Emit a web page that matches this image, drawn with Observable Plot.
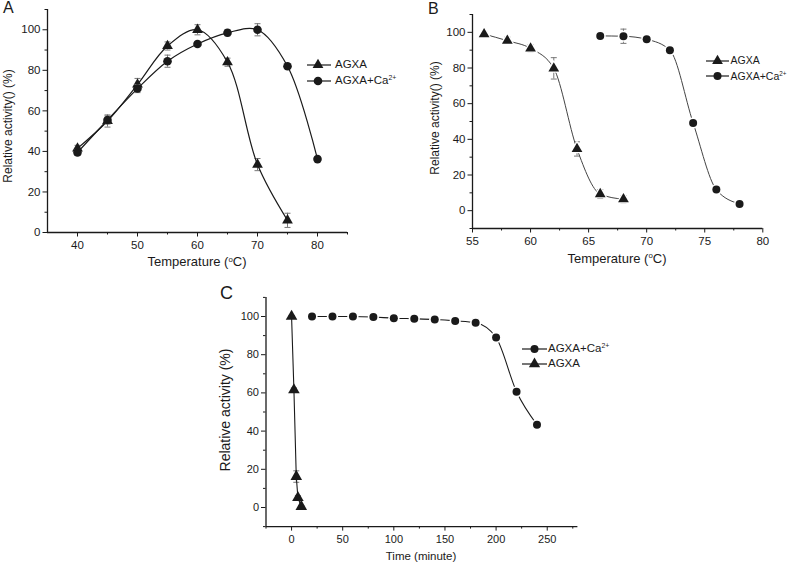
<!DOCTYPE html>
<html>
<head>
<meta charset="utf-8">
<script src="https://cdn.jsdelivr.net/npm/d3@7"></script>
<script src="https://cdn.jsdelivr.net/npm/@observablehq/plot@0.6"></script>
<style>
  html, body { margin: 0; padding: 0; background: #fff; }
  #root { position: relative; width: 789px; height: 569px; background: #fff; overflow: hidden;
          font-family: "Liberation Sans", Arial, sans-serif; color: #1a1a1a; }
  .abs { position: absolute; white-space: nowrap; line-height: 1; }
  .panel { position: absolute; }
  sup { font-size: 0.6em; vertical-align: 0; position: relative; top: -0.55em; }
</style>
</head>
<body>
<div id="root"></div>
<script>
// ---------------- Data ----------------
// Panel A: temperature optimum
const A_temp_agxa = [40, 45, 50, 55, 60, 65, 70, 75];
const A_agxa      = [41.5, 55, 73, 92, 100, 84, 33.5, 6];
const A_agxa_err  = [1.5, 3, 3, 2, 2.5, 2, 3, 3.5];
const A_temp_ca   = [40, 45, 50, 55, 60, 65, 70, 75, 80];
const A_ca        = [39.5, 55.5, 71, 84.5, 93, 98.5, 100, 82, 36.2];
const A_ca_err    = [1.5, 2, 2, 3, 1, 1.5, 3, 1, 1];

// Panel B: thermostability (temperature)
const B_temp_agxa = [56, 58, 60, 62, 64, 66, 68];
const B_agxa      = [99, 95.3, 91, 79.8, 34.6, 9.3, 6.4];
const B_agxa_err  = [1.5, 2, 2, 6, 4, 2.5, 2];
const B_temp_ca   = [66, 68, 70, 72, 74, 76, 78];
const B_ca        = [98, 97.8, 96.1, 90, 49.2, 11.8, 3.8];
const B_ca_err    = [1, 4, 1, 1, 1.5, 1, 1];

// Panel C: thermostability (time)
const C_time_ca   = [20, 40, 60, 80, 100, 120, 140, 160, 180, 200, 220, 240];
const C_ca        = [100, 100, 100, 99.7, 99.1, 98.8, 98.4, 97.7, 96.7, 89, 60.6, 43.3];
const C_ca_err    = [0.5, 0.5, 0.5, 0.5, 0.5, 0.5, 0.5, 0.8, 2, 1, 1, 1];
const C_time_agxa = [0, 2.3, 4.6, 6.2, 9.5];
const C_agxa      = [100, 61.6, 16.2, 5.2, 0.5];
const C_agxa_err  = [0.5, 1, 3, 1, 0.5];

// Ticks
const A_xTicks = [40, 50, 60, 70, 80];
const A_xMinor = [45, 55, 65, 75, 85];
const A_yTicks = [0, 20, 40, 60, 80, 100];
const A_yMinor = [10, 30, 50, 70, 90, 110];
const B_xTicks = [55, 60, 65, 70, 75, 80];
const B_xMinor = [57.5, 62.5, 67.5, 72.5, 77.5];
const B_yTicks = [0, 20, 40, 60, 80, 100];
const B_yMinor = [-10, 10, 30, 50, 70, 90, 110];
const C_xTicks = [0, 50, 100, 150, 200, 250];
const C_xMinor = [-25, 25, 75, 125, 175, 225, 275];
const C_yTicks = [0, 20, 40, 60, 80, 100];
const C_yMinor = [-10, 10, 30, 50, 70, 90, 110];

// Labels
const seriesNames = { agxa: "AGXA", ca: "AGXA+Ca" };
const panelLetters = ["A", "B", "C"];
const yTitleTemp = "Relative activity() (%)";
const yTitleTime = "Relative activity (%)";
const xTitleTemp = "Temperature (<sup>o</sup>C)";
const xTitleTime = "Time (minute)";

// ---------------- Helpers ----------------
const ink = "#1a1a1a";
const errInk = "#777";
const root = document.getElementById("root");

function rows(xs, ys, es) { return xs.map((x, i) => ({ x, y: ys[i], e: es[i] })); }

const capSymbol = { draw(ctx) { ctx.moveTo(-3, 0); ctx.lineTo(3, 0); } };

function seriesMarks(data, { symbol, r, curve, stroke, halo, lineWidth }) {
  const m = [];
  m.push(Plot.ruleX(data, { x: "x", y1: d => d.y - d.e, y2: d => d.y + d.e, stroke: errInk, strokeWidth: 1 }));
  m.push(Plot.dot(data, { x: "x", y: d => d.y + d.e, symbol: capSymbol, stroke: errInk, strokeWidth: 1 }));
  m.push(Plot.dot(data, { x: "x", y: d => d.y - d.e, symbol: capSymbol, stroke: errInk, strokeWidth: 1 }));
  m.push(Plot.line(data, { x: "x", y: "y", curve, stroke, strokeWidth: lineWidth }));
  if (halo) m.push(Plot.dot(data, { x: "x", y: "y", symbol, r: r + 1.6, fill: "white", stroke: "none" }));
  m.push(Plot.dot(data, { x: "x", y: "y", symbol, r, fill: ink, stroke: "none" }));
  return m;
}

function panel(cfg) {
  const marks = [
    Plot.axisX(cfg.xMinor, { tickSize: 2.5, tickFormat: () => "", label: null, stroke: ink }),
    Plot.axisX(cfg.xTicks, { tickSize: 4.5, tickPadding: 4, label: null, stroke: ink, fill: ink }),
    Plot.axisY(cfg.yMinor, { tickSize: 2.5, tickFormat: () => "", label: null, stroke: ink }),
    Plot.axisY(cfg.yTicks, { tickSize: 4.5, tickPadding: 2.5, label: null, stroke: ink, fill: ink }),
    Plot.ruleY([cfg.yDomain[0]], { stroke: ink, strokeWidth: 1.3 }),
    Plot.ruleX([cfg.xDomain[0]], { stroke: ink, strokeWidth: 1.3 }),
    ...cfg.series.flatMap(s => seriesMarks(s.data, s))
  ];
  const chart = Plot.plot({
    width: cfg.width, height: cfg.height,
    marginLeft: cfg.m[0], marginRight: cfg.m[1], marginTop: cfg.m[2], marginBottom: cfg.m[3],
    x: { domain: cfg.xDomain },
    y: { domain: cfg.yDomain },
    style: { fontFamily: "Liberation Sans, Arial, sans-serif", fontSize: cfg.fontSize + "px", color: ink, background: "transparent", overflow: "visible" },
    marks
  });
  chart.classList.add("panel");
  chart.style.left = cfg.left + "px";
  chart.style.top = cfg.top + "px";
  root.appendChild(chart);
}

function text(html, { left, top, size, rotate = false, anchor = "start", weight = "normal" }) {
  const d = document.createElement("div");
  d.className = "abs";
  d.innerHTML = html;
  d.style.fontSize = size + "px";
  d.style.left = left + "px";
  d.style.top = top + "px";
  d.style.fontWeight = weight;
  if (rotate) d.style.transform = "translate(-50%,-50%) rotate(-90deg)";
  else if (anchor === "middle") d.style.transform = "translate(-50%,0)";
  root.appendChild(d);
}

function legend(entries, { x0, x1, xs, xt, size }) {
  entries.forEach(en => {
    const w = x1 - x0, h = 14;
    const svg = d3.create("svg").attr("width", w).attr("height", h)
      .style("position", "absolute").style("left", x0 + "px").style("top", (en.y - h / 2) + "px");
    svg.append("line").attr("x1", 0).attr("x2", w).attr("y1", h / 2).attr("y2", h / 2)
      .attr("stroke", ink).attr("stroke-width", 1.2);
    const area = en.r * en.r * Math.PI;
    svg.append("path").attr("d", d3.symbol(en.symbol, area)())
      .attr("transform", `translate(${xs - x0},${h / 2})`).attr("fill", ink);
    root.appendChild(svg.node());
    text(en.label, { left: xt, top: en.y - size * 0.52, size });
  });
}

// ---------------- Panel A ----------------
panel({
  left: 0, top: 0, width: 360, height: 275, m: [47, 13, 9, 43], fontSize: 11.5,
  xDomain: [35, 85], yDomain: [0, 110],
  xTicks: A_xTicks, xMinor: A_xMinor, yTicks: A_yTicks, yMinor: A_yMinor,
  series: [
    { data: rows(A_temp_agxa, A_agxa, A_agxa_err), symbol: "triangle", r: 4, curve: "catmull-rom", stroke: ink, lineWidth: 1.2 },
    { data: rows(A_temp_ca, A_ca, A_ca_err), symbol: "circle", r: 4.3, curve: "catmull-rom", stroke: ink, lineWidth: 1.2 }
  ]
});
text(panelLetters[0], { left: 3, top: 0, size: 16 });
text(yTitleTemp, { left: 8, top: 126, size: 12, rotate: true });
text(xTitleTemp, { left: 197, top: 255, size: 13, anchor: "middle" });
legend([
  { label: seriesNames.agxa, symbol: d3.symbolTriangle, r: 4, y: 65 },
  { label: seriesNames.ca + "<sup>2+</sup>", symbol: d3.symbolCircle, r: 4.3, y: 80.5 }
], { x0: 307, x1: 331, xs: 318, xt: 335, size: 11.5 });

// ---------------- Panel B ----------------
panel({
  left: 420, top: 0, width: 360, height: 260, m: [52, 17.7, 14, 32], fontSize: 11.5,
  xDomain: [55, 80], yDomain: [-10, 110],
  xTicks: B_xTicks, xMinor: B_xMinor, yTicks: B_yTicks, yMinor: B_yMinor,
  series: [
    { data: rows(B_temp_agxa, B_agxa, B_agxa_err), symbol: "triangle", r: 4, curve: "monotone-x", stroke: "#444", lineWidth: 1, halo: true },
    { data: rows(B_temp_ca, B_ca, B_ca_err), symbol: "circle", r: 4, curve: "monotone-x", stroke: "#444", lineWidth: 1, halo: true }
  ]
});
text(panelLetters[1], { left: 428, top: 0.5, size: 16 });
text(yTitleTemp, { left: 435, top: 118, size: 12, rotate: true });
text(xTitleTemp, { left: 617, top: 251.5, size: 13, anchor: "middle" });
legend([
  { label: seriesNames.agxa, symbol: d3.symbolTriangle, r: 4, y: 60.7 },
  { label: seriesNames.ca + "<sup>2+</sup>", symbol: d3.symbolCircle, r: 4, y: 76 }
], { x0: 706, x1: 729, xs: 717.5, xt: 730.5, size: 10.5 });

// ---------------- Panel C ----------------
panel({
  left: 200, top: 270, width: 390, height: 280, m: [65.5, 12.6, 26.9, 23.9], fontSize: 11,
  xDomain: [-25, 280], yDomain: [-10, 110],
  xTicks: C_xTicks, xMinor: C_xMinor, yTicks: C_yTicks, yMinor: C_yMinor,
  series: [
    { data: rows(C_time_ca, C_ca, C_ca_err), symbol: "circle", r: 4, curve: "monotone-x", stroke: ink, lineWidth: 1.1, halo: true },
    { data: rows(C_time_agxa, C_agxa, C_agxa_err), symbol: "triangle", r: 4.3, curve: "linear", stroke: ink, lineWidth: 1.1 }
  ]
});
text(panelLetters[2], { left: 220, top: 284, size: 18 });
text(yTitleTime, { left: 225, top: 410, size: 14, rotate: true });
text(xTitleTime, { left: 421, top: 551, size: 11.5, anchor: "middle" });
legend([
  { label: seriesNames.ca + "<sup>2+</sup>", symbol: d3.symbolCircle, r: 4, y: 349 },
  { label: seriesNames.agxa, symbol: d3.symbolTriangle, r: 4.2, y: 363.5 }
], { x0: 521.5, x1: 546.5, xs: 534, xt: 548, size: 11.5 });
</script>
</body>
</html>
